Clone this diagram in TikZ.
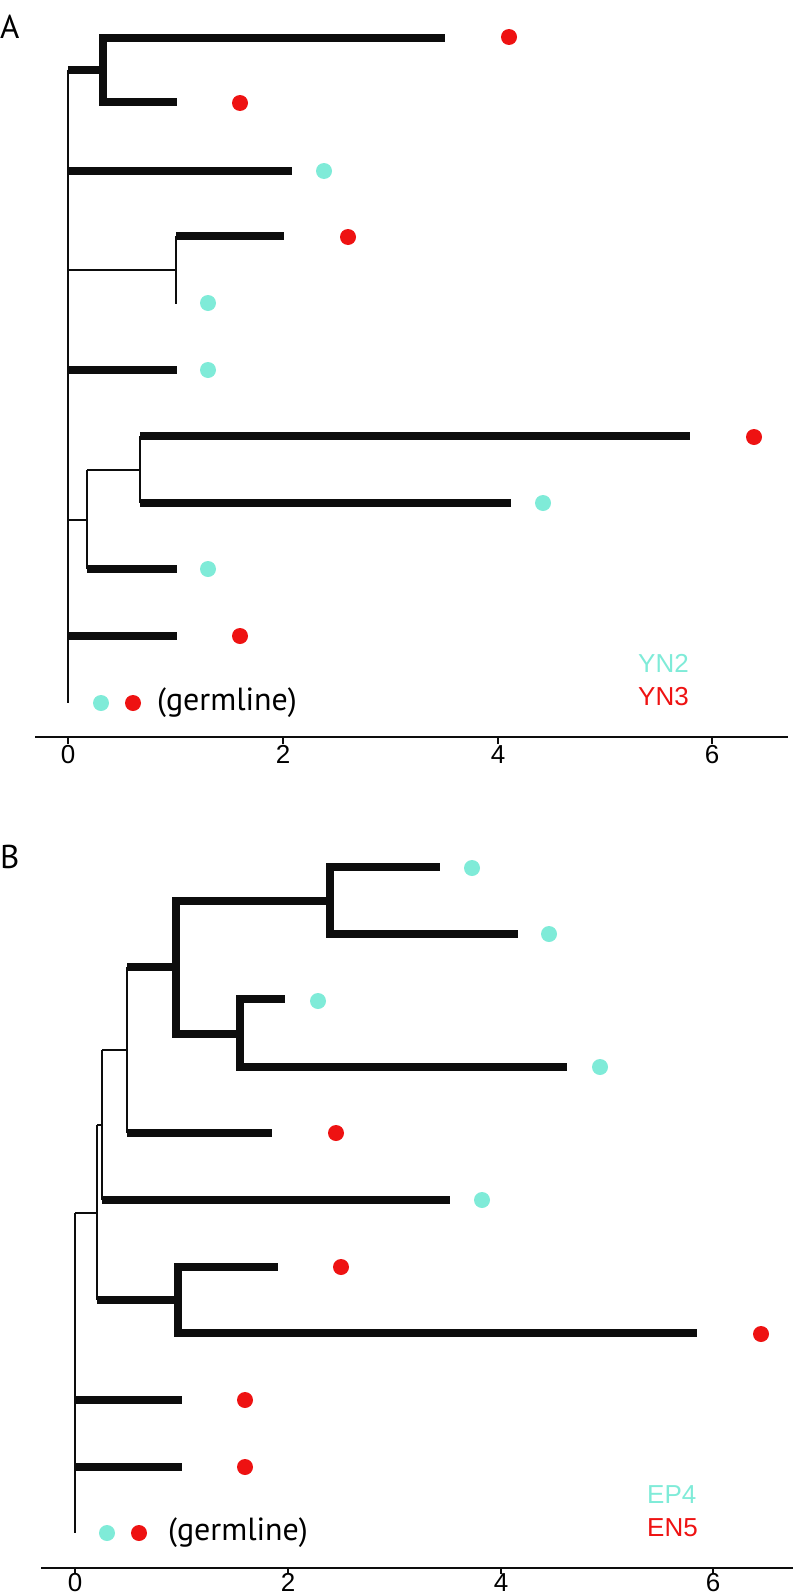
\documentclass[tikz,border=0pt]{standalone}
\usepackage{fontspec}
\setmainfont{Liberation Sans}
\newfontfamily\hum{PT Sans}
\definecolor{cy}{RGB}{127,235,216}
\definecolor{rd}{RGB}{238,18,18}
\definecolor{ink}{RGB}{13,13,13}
\begin{document}
\begin{tikzpicture}[x=1pt,y=-1pt,
  brthin/.style={draw=ink,line width=2pt},
  brthick/.style={draw=ink,line width=8pt},
  vthick/.style={draw=ink,line width=8pt,line cap=rect},
  cdot/.style={circle,fill=cy,minimum size=16pt,inner sep=0pt},
  rdot/.style={circle,fill=rd,minimum size=16pt,inner sep=0pt},
  axisline/.style={draw=ink,line width=2.5pt},
  ticklab/.style={anchor=north,inner sep=0pt,font=\fontsize{26}{28}\selectfont},
  panlab/.style={anchor=north west,inner sep=0pt,font=\hum\fontsize{33}{36}\selectfont},
  germ/.style={anchor=west,inner sep=0pt,font=\hum\fontsize{32}{36}\selectfont},
  legtxt/.style={anchor=west,inner sep=0pt,font=\fontsize{26}{30}\selectfont}]
\useasboundingbox (0,0) rectangle (796,1595);

% ================= Panel A =================
\node[panlab] (labA) at (0,15) {A};
\coordinate (Ar) at (68,70);
\coordinate (Arb) at (68,703);
\draw[brthin] (Ar) -- (Arb);
% clade 1
\coordinate (A1) at (103,70);
\coordinate (a1) at (445,38);
\coordinate (a2) at (177,102);
\draw[brthick] (Ar) -- (A1);
\draw[vthick] (A1 |- a1) -- (A1 |- a2);
\draw[brthick] (A1 |- a1) -- (a1);
\draw[brthick] (A1 |- a2) -- (a2);
\node[rdot] (da1) at (509,37) {};
\node[rdot] (da2) at (240,103) {};
% tip 3
\coordinate (a3) at (292,171);
\draw[brthick] (Ar |- a3) -- (a3);
\node[cdot] (da3) at (324,171) {};
% clade 2
\coordinate (A2) at (176,270);
\coordinate (a4) at (284,236);
\coordinate (a5) at (176,304);
\draw[brthin] (Ar |- A2) -- (A2);
\draw[brthin] (A2 |- a4) -- (a5);
\draw[brthick] (A2 |- a4) -- (a4);
\node[rdot] (da4) at (348,237) {};
\node[cdot] (da5) at (208,303) {};
% tip 6
\coordinate (a6) at (177,370);
\draw[brthick] (Ar |- a6) -- (a6);
\node[cdot] (da6) at (208,370) {};
% clade 3
\coordinate (A3) at (87,520);
\coordinate (A4) at (140,470);
\coordinate (a7) at (690,436);
\coordinate (a8) at (511,503);
\coordinate (a9) at (177,569);
\draw[brthin] (Ar |- A3) -- (A3);
\draw[brthin] (A3 |- A4) -- (A3 |- a9);
\draw[brthin] (A3 |- A4) -- (A4);
\draw[brthin] (A4 |- a7) -- (A4 |- a8);
\draw[brthick] (A4 |- a7) -- (a7);
\draw[brthick] (A4 |- a8) -- (a8);
\draw[brthick] (A3 |- a9) -- (a9);
\node[rdot] (da7) at (754,437) {};
\node[cdot] (da8) at (543,503) {};
\node[cdot] (da9) at (208,569) {};
% tip 10
\coordinate (a10) at (177,636);
\draw[brthick] (Ar |- a10) -- (a10);
\node[rdot] (da10) at (240,636) {};
% legend
\node[cdot] (gAc) at (101,703) {};
\node[rdot] (gAr) at (133,703) {};
\node[germ] (gAt) at (157,703) {(germline)};
\node[legtxt,text=cy] (yn2) at (638,663) {YN2};
\node[legtxt,text=rd] (yn3) at (638,697) {YN3};
% axis
\coordinate (axA1) at (35,737);
\coordinate (axA2) at (788,737);
\draw[axisline] (axA1) -- (axA2);
\foreach \v/\x in {0/68,2/283,4/498,6/712}{
  \draw[axisline] (\x,737) -- (\x,744);
  \node[ticklab] at (\x,745) {\v};
}

% ================= Panel B =================
\node[panlab] (labB) at (0,845) {B};
\coordinate (Br) at (75,1213);
\coordinate (Brb) at (75,1533);
\draw[brthin] (Br) -- (Brb);
\coordinate (B1) at (97,1213);
\draw[brthin] (Br) -- (B1);
\coordinate (B2) at (102,1125);
\coordinate (B3) at (127,1050);
\coordinate (B4) at (176,967);
\coordinate (B5) at (330,901);
\coordinate (B6) at (240,1034);
\coordinate (B7) at (178,1300);
\coordinate (b1) at (440,867);
\coordinate (b2) at (518,934);
\coordinate (b3) at (285,999);
\coordinate (b4) at (567,1067);
\coordinate (b5) at (272,1133);
\coordinate (b6) at (450,1200);
\coordinate (b7) at (278,1267);
\coordinate (b8) at (697,1333);
\coordinate (b9) at (182,1400);
\coordinate (b10) at (182,1467);
% thin backbone
\draw[brthin] (B1 |- B2) -- (B1 |- B7);
\draw[brthin] (B1 |- B2) -- (B2);
\draw[brthin] (B2 |- B3) -- (B2 |- b6);
\draw[brthin] (B2 |- B3) -- (B3);
\draw[brthin] (B3 |- B4) -- (B3 |- b5);
% thick parts
\draw[brthick] (B3 |- B4) -- (B4);
\draw[vthick] (B4 |- B5) -- (B4 |- B6);
\draw[brthick] (B4 |- B5) -- (B5);
\draw[vthick] (B5 |- b1) -- (B5 |- b2);
\draw[brthick] (B5 |- b1) -- (b1);
\draw[brthick] (B5 |- b2) -- (b2);
\draw[brthick] (B4 |- B6) -- (B6);
\draw[vthick] (B6 |- b3) -- (B6 |- b4);
\draw[brthick] (B6 |- b3) -- (b3);
\draw[brthick] (B6 |- b4) -- (b4);
\draw[brthick] (B3 |- b5) -- (b5);
\draw[brthick] (B2 |- b6) -- (b6);
\draw[brthick] (B1 |- B7) -- (B7);
\draw[vthick] (B7 |- b7) -- (B7 |- b8);
\draw[brthick] (B7 |- b7) -- (b7);
\draw[brthick] (B7 |- b8) -- (b8);
\draw[brthick] (Br |- b9) -- (b9);
\draw[brthick] (Br |- b10) -- (b10);
% dots
\node[cdot] (db1) at (472,868) {};
\node[cdot] (db2) at (549,934) {};
\node[cdot] (db3) at (318,1001) {};
\node[cdot] (db4) at (600,1067) {};
\node[rdot] (db5) at (336,1133) {};
\node[cdot] (db6) at (482,1200) {};
\node[rdot] (db7) at (341,1267) {};
\node[rdot] (db8) at (761,1334) {};
\node[rdot] (db9) at (245,1400) {};
\node[rdot] (db10) at (245,1467) {};
% legend
\node[cdot] (gBc) at (107,1533) {};
\node[rdot] (gBr) at (139,1533) {};
\node[germ] (gBt) at (168,1533) {(germline)};
\node[legtxt,text=cy] (ep4) at (647,1495) {EP4};
\node[legtxt,text=rd] (en5) at (647,1528) {EN5};
% axis
\coordinate (axB1) at (41,1568);
\coordinate (axB2) at (793,1568);
\draw[axisline] (axB1) -- (axB2);
\foreach \v/\x in {0/75,2/288,4/501,6/713}{
  \draw[axisline] (\x,1568) -- (\x,1574);
  \node[ticklab] at (\x,1573) {\v};
}
\end{tikzpicture}
\end{document}
